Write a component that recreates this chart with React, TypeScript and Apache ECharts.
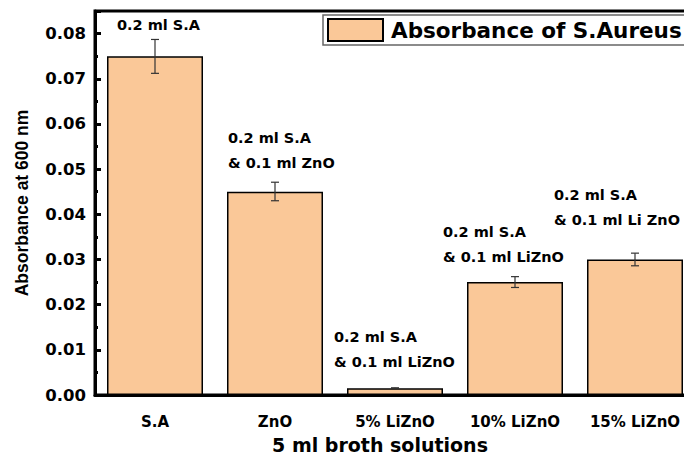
import React, { useEffect, useRef } from "react";
import * as echarts from "echarts";

const categories = ["S.A", "ZnO", "5% LiZnO", "10% LiZnO", "15% LiZnO"];
const absorbance = [0.075, 0.045, 0.0015, 0.025, 0.03];
const errLow = [0.0712, 0.043, 0.0014, 0.0238, 0.0286];
const errHigh = [0.0787, 0.0471, 0.0016, 0.0262, 0.0314];
const seriesName = "Absorbance of S.Aureus";
const annotationLines = [
  ["0.2 ml S.A"],
  ["0.2 ml S.A", "& 0.1 ml ZnO"],
  ["0.2 ml S.A", "& 0.1 ml LiZnO"],
  ["0.2 ml S.A", "& 0.1 ml LiZnO"],
  ["0.2 ml S.A", "& 0.1 ml Li ZnO"],
];
// layout of annotation blocks (left x, first-line centre y)
const annotationPos = [
  [117, 25],
  [228, 138],
  [334, 337],
  [443, 232],
  [554, 195],
];

const FONT = "DejaVu Sans";

export default function App() {
  const ref = useRef<HTMLDivElement>(null);
  useEffect(() => {
    document.body.style.margin = "0";
    const chart = echarts.init(ref.current!, null, { renderer: "svg" });
    const graphics: any[] = [];
    annotationLines.forEach((lines, i) => {
      lines.forEach((t, j) => {
        graphics.push({
          type: "text",
          x: annotationPos[i][0],
          y: annotationPos[i][1] + j * 25,
          style: {
            text: t,
            font: `bold 14.5px "${FONT}"`,
            fill: "#000",
            textVerticalAlign: "middle",
            verticalAlign: "middle",
          },
          z: 100,
        });
      });
    });
    chart.setOption({
      animation: false,
      backgroundColor: "#fff",
      grid: {
        left: 95,
        top: 11,
        width: 600,
        height: 384,
        outerBoundsMode: "none",
        containLabel: false,
        show: true,
        borderColor: "#000",
        borderWidth: 3,
        backgroundColor: "transparent",
      },
      legend: {
        data: [seriesName],
        left: 323,
        top: 15,
        itemWidth: 55,
        itemHeight: 22,
        icon: "rect",
        padding: [3, 10, 3, 4],
        backgroundColor: "#fff",
        borderColor: "#666",
        borderWidth: 1.5,
        textStyle: {
          fontFamily: FONT,
          fontWeight: "bold",
          fontSize: 21.5,
          color: "#000",
          padding: [0, 0, 0, 3],
        },
      },
      xAxis: {
        type: "category",
        data: categories,
        axisLine: { lineStyle: { color: "#000", width: 3 } },
        axisTick: { show: false },
        axisLabel: {
          margin: 19,
          fontFamily: FONT,
          fontWeight: "bold",
          fontSize: 15,
          color: "#000",
        },
        name: "5 ml broth solutions",
        nameLocation: "middle",
        nameGap: 40,
        nameTextStyle: {
          fontFamily: FONT,
          fontWeight: "bold",
          fontSize: 19,
          color: "#000",
          padding: [0, 30, 0, 0],
        },
      },
      yAxis: {
        type: "value",
        min: 0,
        max: 0.085,
        interval: 0.01,
        axisLine: { show: true, lineStyle: { color: "#000", width: 3 } },
        axisTick: {
          show: true,
          inside: true,
          length: 6,
          lineStyle: { color: "#000", width: 3 },
        },
        minorTick: {
          show: true,
          splitNumber: 2,
          length: 3,
          lineStyle: { color: "#000", width: 3 },
        },
        splitLine: { show: false },
        axisLabel: {
          showMaxLabel: false,
          margin: 9,
          fontFamily: FONT,
          fontWeight: "bold",
          fontSize: 16.5,
          color: "#000",
          formatter: (v: number) => v.toFixed(2),
        },
        name: "Absorbance at 600 nm",
        nameLocation: "middle",
        nameGap: 64,
        nameTextStyle: {
          fontFamily: "Liberation Sans",
          fontWeight: "bold",
          fontSize: 17.5,
          color: "#000",
        },
      },
      series: [
        {
          name: seriesName,
          type: "bar",
          data: absorbance,
          barWidth: 96,
          itemStyle: { color: "#FAC898", borderColor: "#000", borderWidth: 1.5 },
        },
        {
          type: "custom",
          name: "err",
          data: categories.map((_, i) => [i, errLow[i], errHigh[i]]),
          encode: { x: 0, y: [1, 2] },
          z: 10,
          renderItem: (params: any, api: any) => {
            const i = api.value(0);
            const lo = api.coord([i, api.value(1)]);
            const hi = api.coord([i, api.value(2)]);
            const hw = 4;
            const style = { stroke: "#333", lineWidth: 1.2 };
            return {
              type: "group",
              children: [
                { type: "line", shape: { x1: lo[0], y1: lo[1], x2: hi[0], y2: hi[1] }, style },
                { type: "line", shape: { x1: lo[0] - hw, y1: lo[1], x2: lo[0] + hw, y2: lo[1] }, style },
                { type: "line", shape: { x1: hi[0] - hw, y1: hi[1], x2: hi[0] + hw, y2: hi[1] }, style },
              ],
            };
          },
        },
      ],
      graphic: graphics,
    });
    return () => chart.dispose();
  }, []);
  return <div ref={ref} style={{ width: 684, height: 458 }} />;
}
